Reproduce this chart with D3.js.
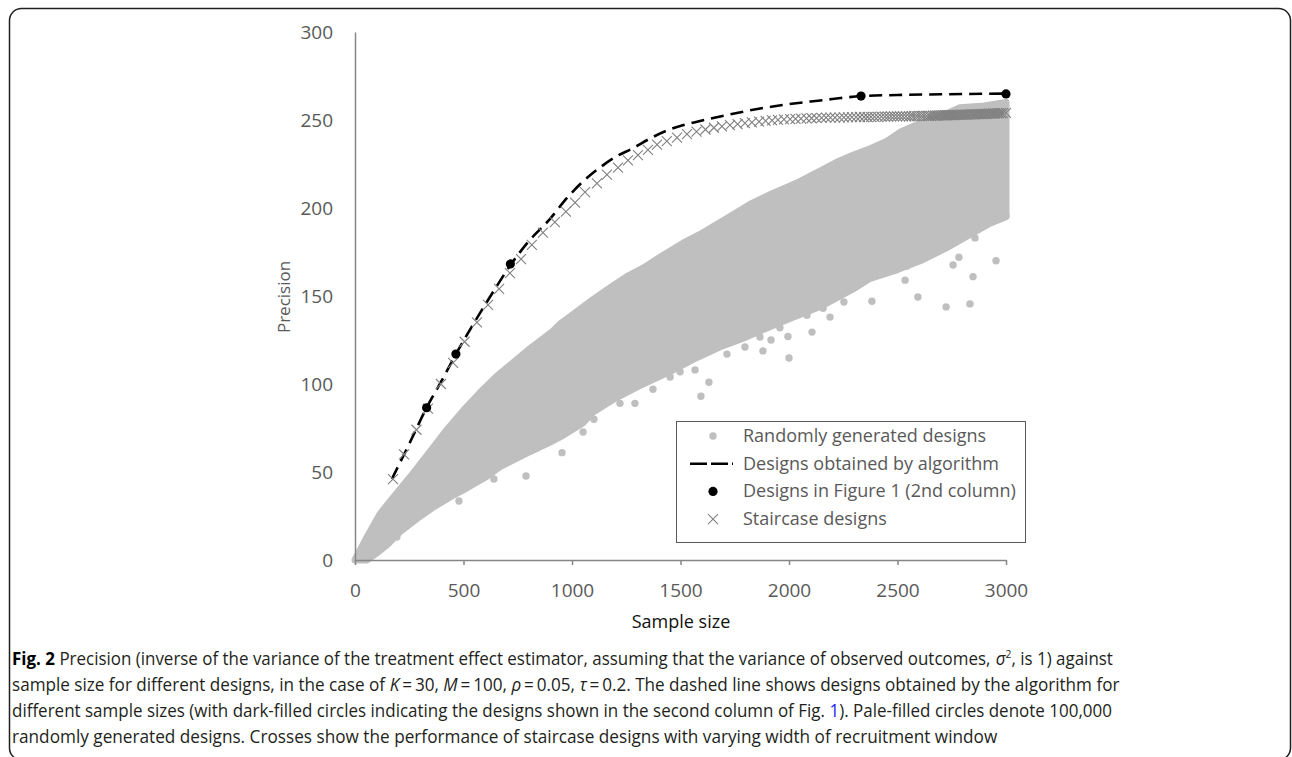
<!DOCTYPE html>
<html>
<head>
<meta charset="utf-8">
<script src="https://cdn.jsdelivr.net/npm/d3@7"></script>
<style>
  body { margin: 0; background: #fff; }
  svg { display: block; font-family: 'Open Sans', sans-serif; }
</style>
</head>
<body>
<script>
// Tick labels
const xTicks = [0, 500, 1000, 1500, 2000, 2500, 3000];
const yTicks = [0, 50, 100, 150, 200, 250, 300];

// Randomly generated designs: upper and lower edge of the dense cloud [sample size, precision]
const cloudUpper = [
  [0, 0], [30, 7], [60, 14], [115, 26], [160, 33], [207, 40], [267, 49], [330, 59],
  [380, 67], [424, 74], [500, 85], [576, 95], [650, 104], [728, 112], [806, 120],
  [912, 130], [945, 134], [1000, 139], [1097, 148], [1180, 155], [1253, 161],
  [1330, 166], [1406, 172], [1512, 180], [1590, 185], [1700, 193], [1820, 202],
  [1920, 208], [2050, 215], [2143, 221], [2220, 226], [2295, 230], [2380, 234],
  [2452, 238], [2512, 243], [2604, 248], [2700, 252], [2788, 257], [2900, 258], [3000, 260]
];
const cloudLower = [
  [0, 0], [55, 0], [100, 4], [150, 9], [207, 16], [280, 23], [360, 30], [440, 36],
  [516, 41], [600, 47], [668, 53], [780, 60], [899, 67], [960, 71], [1051, 78],
  [1097, 84], [1200, 92], [1327, 100], [1450, 107], [1558, 114], [1680, 121],
  [1788, 126], [1900, 132], [2018, 138], [2143, 144], [2295, 154], [2373, 160],
  [2500, 165], [2604, 170], [2720, 177], [2834, 185], [2920, 191], [3000, 195]
];
// Randomly generated designs lying outside the dense cloud
const cloudOutliers = [
  [138, 8.5], [193, 13], [479, 33.5], [640, 46], [788, 47.7], [954, 61], [1051, 72.7],
  [1101, 80], [1221, 89], [1290, 89], [1373, 97], [1452, 104], [1498, 107],
  [1567, 108], [1594, 93], [1631, 101], [1714, 117], [1797, 121],
  [1866, 126.7], [1880, 118.8], [1908, 135.8], [1917, 125], [1958, 132], [1995, 127],
  [2000, 114.8], [2083, 139], [2106, 129.5], [2157, 143], [2189, 138], [2253, 146.6],
  [2382, 147], [2535, 159], [2544, 167], [2594, 149.4], [2724, 143.8], [2756, 167.6],
  [2783, 172], [2834, 145.5], [2848, 161], [2857, 183], [2954, 170], [3000, 195.5]
];

// Designs obtained by algorithm (dashed line)
const algorithmDesigns = [
  [170, 46], [250, 66], [332, 87], [400, 102], [465, 117], [550, 135], [640, 153],
  [719, 168], [800, 181], [900, 194], [977, 205.7], [1050, 215], [1129, 223],
  [1200, 229], [1281, 234], [1360, 239.5], [1437, 244], [1510, 247], [1590, 249.4],
  [1700, 252.5], [1800, 255], [1900, 257.2], [2000, 259], [2100, 260.5], [2200, 261.9],
  [2332, 263.6], [2500, 264.2], [2700, 264.6], [3000, 265]
];

// Designs in Figure 1 (2nd column)
const figureDesigns = [[330, 86.5], [465, 117], [716, 168.2], [2332, 263.6], [3000, 264.8]];

// Staircase designs
const staircaseDesigns = [
  [175, 46], [226, 60], [283, 74], [336, 86], [396, 100], [452, 112], [505, 124],
  [562, 135], [613, 145], [664, 154], [714, 163], [765, 171], [815, 179], [866, 186],
  [921, 192], [972, 198], [1014, 203], [1060, 209], [1115, 214], [1161, 219],
  [1212, 223], [1258, 227], [1304, 230], [1350, 233], [1392, 236], [1437, 238],
  [1484, 240], [1530, 242], [1574, 243.4], [1615, 244.6], [1654, 245.6], [1691, 246.4],
  [1728, 247.1], [1763, 247.7], [1797, 248.2], [1829, 248.7], [1862, 249.1],
  [1892, 249.5], [1922, 249.8], [1949, 250.1], [1977, 250.3], [2005, 250.5],
  [2030, 250.7], [2055, 250.8], [2081, 250.9], [2104, 251], [2127, 251.1],
  [2150, 251.2], [2171, 251.3], [2191, 251.3], [2212, 251.4], [2233, 251.4],
  [2253, 251.5], [2272, 251.5], [2290, 251.6], [2309, 251.6], [2327, 251.7],
  [2346, 251.7], [2362, 251.7], [2378, 251.8], [2394, 251.8], [2410, 251.8],
  [2426, 251.9], [2442, 251.9], [2456, 251.9], [2470, 252], [2484, 252], [2498, 252],
  [2512, 252], [2525, 252.1], [2539, 252.1], [2553, 252.1], [2565, 252.2],
  [2576, 252.2], [2588, 252.2], [2599, 252.3], [2611, 252.3], [2622, 252.3],
  [2634, 252.4], [2645, 252.4], [2654, 252.4], [2664, 252.5], [2673, 252.5],
  [2682, 252.5], [2691, 252.6], [2700, 252.6], [2710, 252.6], [2719, 252.7],
  [2728, 252.7], [2737, 252.7], [2747, 252.8], [2756, 252.8], [2765, 252.8],
  [2774, 252.9], [2783, 252.9], [2793, 253], [2802, 253], [2811, 253], [2820, 253.1],
  [2829, 253.1], [2839, 253.2], [2848, 253.2], [2857, 253.2], [2866, 253.3],
  [2876, 253.3], [2885, 253.4], [2894, 253.4], [2903, 253.5], [2912, 253.5],
  [2922, 253.6], [2931, 253.6], [2940, 253.7], [2949, 253.7], [2959, 253.8],
  [2968, 253.8], [2977, 253.9], [2986, 253.9], [3000, 254]
];

const legendLabels = [
  'Randomly generated designs',
  'Designs obtained by algorithm',
  'Designs in Figure 1 (2nd column)',
  'Staircase designs'
];

const W = 1292, H = 757;
const cloudColor = '#bfbfbf';
const axisColor = '#868686';
const labelColor = '#595959';

const svg = d3.select('body').append('svg')
  .attr('width', W)
  .attr('height', H);

// Outer frame of the figure (bottom edge falls just outside the picture)
svg.append('rect')
  .attr('x', 9.5).attr('y', 8.5)
  .attr('width', 1281).attr('height', 751.5)
  .attr('rx', 12)
  .attr('fill', 'none')
  .attr('stroke', '#231f20')
  .attr('stroke-width', 1.5);

// Scales
const x = d3.scaleLinear().domain([0, 3000]).range([355, 1006]);
const y = d3.scaleLinear().domain([0, 300]).range([560, 32]);

// Cloud of random designs: upper and lower edges joined into one closed shape
const cloudPoly = cloudUpper.map((d) => [x(d[0]), y(d[1])])
  .concat(cloudLower.slice().reverse().map((d) => [x(d[0]), y(d[1])]));
svg.append('path')
  .attr('d', d3.line().curve(d3.curveLinearClosed)(cloudPoly))
  .attr('fill', cloudColor)
  .attr('stroke', cloudColor)
  .attr('stroke-width', 7)
  .attr('stroke-linejoin', 'round');

svg.append('g')
  .selectAll('circle')
  .data(cloudOutliers)
  .join('circle')
  .attr('cx', (d) => x(d[0]))
  .attr('cy', (d) => y(d[1]))
  .attr('r', 3.7)
  .attr('fill', cloudColor);

// Axes
const yAxis = d3.axisLeft(y).tickValues(yTicks).tickSize(0).tickPadding(22);
const xAxis = d3.axisBottom(x)
  .tickValues(xTicks)
  .tickFormat(d3.format('d'))
  .tickSizeInner(5)
  .tickSizeOuter(0)
  .tickPadding(18.5);

const gy = svg.append('g').attr('transform', 'translate(355,0)').call(yAxis);
const gx = svg.append('g').attr('transform', 'translate(0,560)').call(xAxis);

[gx, gy].forEach((g) => {
  g.select('.domain').attr('stroke', axisColor).attr('stroke-width', 1.5);
  g.selectAll('.tick line').attr('stroke', axisColor).attr('stroke-width', 1.5);
  g.selectAll('.tick text')
    .attr('fill', labelColor)
    .style('font-family', "'Open Sans', sans-serif")
    .style('font-size', '19px');
});

// Axis titles
svg.append('text')
  .attr('transform', 'translate(290,297) rotate(-90)')
  .attr('text-anchor', 'middle')
  .attr('fill', labelColor)
  .style('font-size', '17px')
  .text('Precision');

svg.append('text')
  .attr('x', 681).attr('y', 628)
  .attr('text-anchor', 'middle')
  .attr('fill', '#111')
  .style('font-size', '18px')
  .text('Sample size');

// Dashed line for designs obtained by the algorithm
svg.append('path')
  .datum(algorithmDesigns)
  .attr('d', d3.line().x((d) => x(d[0])).y((d) => y(d[1])).curve(d3.curveMonotoneX))
  .attr('fill', 'none')
  .attr('stroke', '#000')
  .attr('stroke-width', 2.6)
  .attr('stroke-dasharray', '13,7');

// Staircase crosses
const crossPath = (s) => `M${-s},${-s}L${s},${s}M${-s},${s}L${s},${-s}`;
svg.append('g')
  .selectAll('path')
  .data(staircaseDesigns)
  .join('path')
  .attr('transform', (d) => `translate(${x(d[0])},${y(d[1])})`)
  .attr('d', crossPath(5))
  .attr('fill', 'none')
  .attr('stroke', '#808080')
  .attr('stroke-width', 1.1);

// Dark dots for designs in figure 1
svg.append('g')
  .selectAll('circle')
  .data(figureDesigns)
  .join('circle')
  .attr('cx', (d) => x(d[0]))
  .attr('cy', (d) => y(d[1]))
  .attr('r', 4.6)
  .attr('fill', '#000');

// Legend
const legend = svg.append('g');
legend.append('rect')
  .attr('x', 676.5).attr('y', 421.5)
  .attr('width', 349).attr('height', 121)
  .attr('fill', '#fff')
  .attr('stroke', '#595959')
  .attr('stroke-width', 1);

const rowY = (i) => 436 + i * 27.7;
legend.append('circle').attr('cx', 713).attr('cy', rowY(0)).attr('r', 3.7).attr('fill', cloudColor);
legend.append('line')
  .attr('x1', 690).attr('x2', 733)
  .attr('y1', rowY(1)).attr('y2', rowY(1))
  .attr('stroke', '#000').attr('stroke-width', 2.6)
  .attr('stroke-dasharray', '17,4');
legend.append('circle').attr('cx', 713).attr('cy', rowY(2)).attr('r', 4.6).attr('fill', '#000');
legend.append('path')
  .attr('transform', `translate(713,${rowY(3)})`)
  .attr('d', crossPath(5))
  .attr('stroke', '#808080').attr('stroke-width', 1.1);

legend.selectAll('text.lg')
  .data(legendLabels)
  .join('text')
  .attr('class', 'lg')
  .attr('x', 743)
  .attr('y', (d, i) => rowY(i) + 6)
  .attr('fill', labelColor)
  .style('font-size', '18px')
  .text((d) => d);

// Caption: each run of text is its own element, the line is squeezed to the reference width
const captionLines = [
  { w: 1101, parts: [
    { t: 'Fig. 2', b: true },
    { t: '\u00a0Precision (inverse of the variance of the treatment effect estimator, assuming that the variance of observed outcomes,\u00a0' },
    { t: 'σ', i: true },
    { t: '2', sup: true },
    { t: ', is 1) against' }
  ] },
  { w: 1108, parts: [
    { t: 'sample size for different designs, in the case of\u00a0' },
    { t: 'K', i: true }, { t: '\u2009=\u200930,\u00a0' },
    { t: 'M', i: true }, { t: '\u2009=\u2009100,\u00a0' },
    { t: 'ρ', i: true }, { t: '\u2009=\u20090.05,\u00a0' },
    { t: 'τ', i: true }, { t: '\u2009=\u20090.2. The dashed line shows designs obtained by the algorithm for' }
  ] },
  { w: 1100, parts: [
    { t: 'different sample sizes (with dark-filled circles indicating the designs shown in the second column of Fig.\u00a0' },
    { t: '1', link: true },
    { t: '). Pale-filled circles denote 100,000' }
  ] },
  { w: 986, parts: [
    { t: 'randomly generated designs. Crosses show the performance of staircase designs with varying width of recruitment window' }
  ] }
];

const caption = svg.append('g').attr('fill', '#231f20').style('font-size', '18px');
captionLines.forEach((line, li) => {
  const g = caption.append('g');
  let cx = 0;
  line.parts.forEach((p) => {
    const t = g.append('text')
      .attr('x', cx)
      .attr('y', p.sup ? -7 : 0)
      .text(p.t);
    if (p.b) t.style('font-weight', 700).attr('fill', '#000');
    if (p.i) t.style('font-style', 'italic');
    if (p.link) t.attr('fill', '#1a1aff');
    if (p.sup) t.style('font-size', '11px');
    cx += t.node().getComputedTextLength();
  });
  g.attr('transform', `translate(12,${665 + li * 26}) scale(${line.w / cx},1)`);
});
</script>
</body>
</html>
